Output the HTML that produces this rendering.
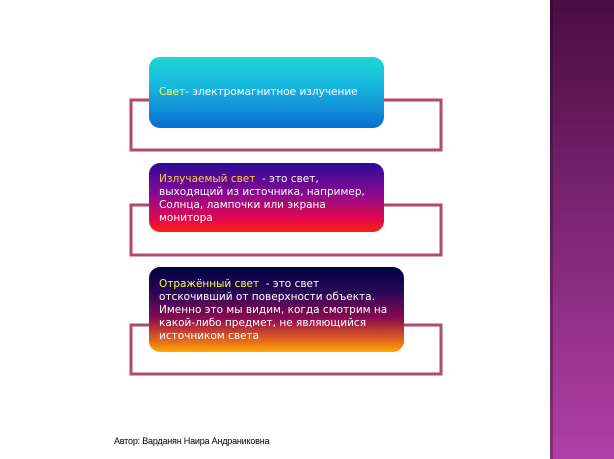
<!DOCTYPE html>
<html><head><meta charset="utf-8"><style>
body{margin:0;width:614px;height:459px;background:#fff;position:relative;overflow:hidden;font-family:"DejaVu Sans","Liberation Sans",sans-serif}
.panel{position:absolute;left:550px;top:0;width:64px;height:459px;background:linear-gradient(#4a0c42,#7a2470 45%,#b040a8);}
.panel:before{content:"";position:absolute;left:0;top:0;width:3px;height:100%;background:rgba(0,0,0,0.25)}
.box{position:absolute;border-radius:11px;color:#fff;font-size:10.5px;line-height:13px;padding:0 10px;box-sizing:border-box;white-space:nowrap}
.y{color:#ffff40}
.foot{position:absolute;left:114px;top:436px;font-family:"Liberation Sans",sans-serif;font-size:9px;color:#000;letter-spacing:-0.2px}
</style></head><body>
<div class="panel"></div>
<svg width="614" height="459" style="position:absolute;left:0;top:0" fill="none" stroke="#b04a72" stroke-width="3">
<polyline points="150,100 131,100 131,150 441,150 441,100 384,100"/>
<polyline points="150,205 131,205 131,255 441,255 441,205 384,205"/>
<polyline points="150,325 131,325 131,374 441,374 441,325 403,325"/>
</svg>
<div class="box" style="left:149px;top:57px;width:235px;height:71px;background:linear-gradient(#1ed6d0,#18b8e0 40%,#0a6ed0);padding-top:29px">
<span class="y">Свет</span>- электромагнитное излучение</div>
<div class="box" style="left:149px;top:163px;width:235px;height:69px;background:linear-gradient(#2a0a98,#8a0a90 45%,#e00850 80%,#ff2010);padding-top:10px">
<span style="color:#ffd040">Излучаемый свет</span> &nbsp;- это свет,<br>выходящий из источника, например,<br>Солнца, лампочки или экрана<br>монитора</div>
<div class="box" style="left:149px;top:267px;width:255px;height:85px;background:linear-gradient(#000040,#2a0858 30%,#8a0a50 60%,#e06020 85%,#ffa800);padding-top:11px">
<span class="y">Отражённый свет</span> &nbsp;- это свет<br>отскочивший от поверхности объекта.<br>Именно это мы видим, когда смотрим на<br>какой-либо предмет, не являющийся<br>источником света</div>
<div class="foot">Автор: Варданян Наира Андраниковна</div>
</body></html>
